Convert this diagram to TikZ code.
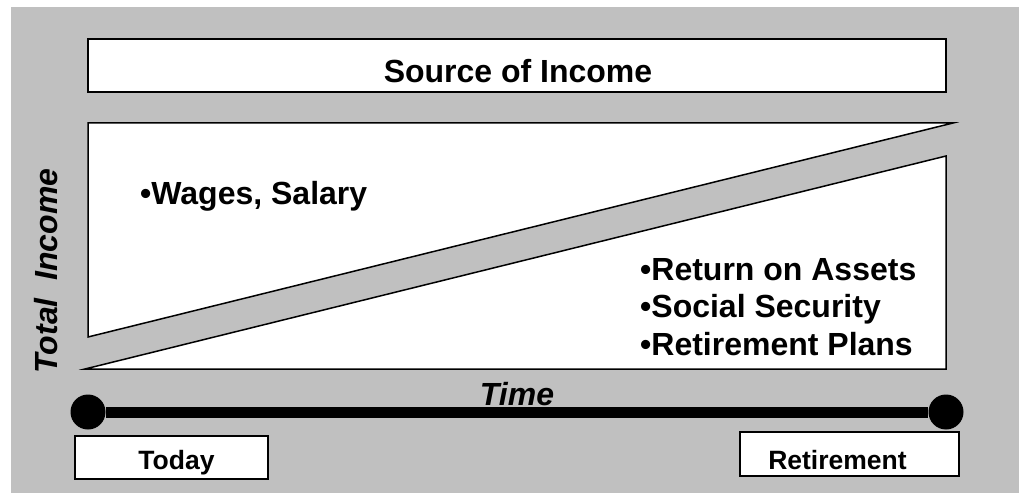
\documentclass[tikz,border=0pt]{standalone}
\usepackage{fontspec}
\setmainfont{Liberation Sans}
\usetikzlibrary{positioning}
\definecolor{panelgray}{RGB}{192,192,192}
\tikzset{whitebox/.style={
			  rectangle,
			  draw            = black,
			  fill            = white,
			  line width      = 1.8pt,
			  inner sep       = 0pt
			}}
\tikzset{bigtext/.style={
			  inner sep       = 0pt,
			  font            = \fontsize{32}{37.5}\selectfont\bfseries
			}}
\tikzset{smalltext/.style={
			  inner sep       = 0pt,
			  font            = \fontsize{26.5}{31}\selectfont\bfseries
			}}
\tikzset{timedot/.style={
			  circle,
			  fill            = black,
			  minimum size    = 35pt,
			  inner sep       = 0pt
			}}
\tikzset{wedge/.style={
			  draw            = black,
			  fill            = white,
			  line width      = 1.5pt,
			  line join       = miter
			}}

\begin{document}
\begin{tikzpicture}[x=1pt, y=-1pt, >=latex]

    \useasboundingbox (0,0) rectangle (1019,494);
    \fill [panelgray] (11,7) rectangle (1019,493);

    \node (source)     [whitebox, minimum width=858pt, minimum height=53pt] at (517,65.5) {};
    \node (src_text)   [bigtext, anchor=base] at (518,83) {Source of Income};

    \filldraw [wedge] (88,123) -- (953,123) -- (88,337) -- cycle;
    \filldraw [wedge] (85,369) -- (946,156) -- (946,369) -- cycle;

    \node (wages)      [bigtext, anchor=base west] at (140,205) {•Wages, Salary};
    \node (others)     [bigtext, anchor=base west, align=left] at (640,355)
                       {•Return on Assets\\•Social Security\\•Retirement Plans};
    \node (total)      [bigtext, rotate=90, anchor=base] at (57,271) {\itshape Total~~Income};

    \node (time)       [bigtext, anchor=base] at (517,405) {\itshape Time};
    \node (today_dot)  [timedot] at (88,412) {};
    \node (retire_dot) [timedot] at (946,412) {};
    \draw [line width=11pt] (today_dot) -- (retire_dot);

    \node (today)      [whitebox, minimum width=193pt, minimum height=43pt] at (171.5,457.5) {};
    \node (today_txt)  [smalltext, anchor=base] at (176.5,469) {Today};
    \node (retire)     [whitebox, minimum width=219pt, minimum height=44pt] at (849.5,454) {};
    \node (retire_txt) [smalltext, anchor=base] at (837.5,469) {Retirement};

\end{tikzpicture}
\end{document}
